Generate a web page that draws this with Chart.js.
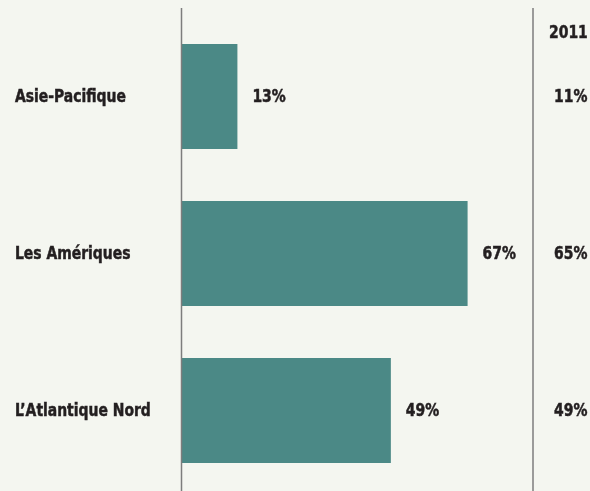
<!DOCTYPE html>
<html>
<head>
<meta charset="utf-8">
<script src="https://cdn.jsdelivr.net/npm/chart.js@4/dist/chart.umd.min.js"></script>
<style>
  html, body { margin: 0; padding: 0; background: #f4f6f0; }
  #wrap { width: 590px; height: 491px; position: relative; }
</style>
</head>
<body>
<div id="wrap"><canvas id="c" width="590" height="491"></canvas></div>
<script>
const categories = ["Asie-Pacifique", "Les Amériques", "L’Atlantique Nord"];
const currentValues = [13, 67, 49];
const comparisonValues = [11, 65, 49];
const comparisonYear = "2011";
const valueTicks = [0, 80];

const FONT = '"DejaVu Sans Condensed", "Liberation Sans Narrow", "Roboto", sans-serif';
const TEXT = '#231f20';
const LINE = '#7d7d7d';
const SQUEEZE = 0.86;

function narrowText(ctx, text, x, y) {
  ctx.save();
  ctx.translate(x, y);
  ctx.scale(SQUEEZE, 1);
  ctx.lineWidth = 0.5;
  ctx.strokeStyle = TEXT;
  ctx.fillText(text, 0, 0);
  ctx.strokeText(text, 0, 0);
  ctx.restore();
}

const overlay = {
  id: 'overlay',
  beforeDraw(chart) {
    const ctx = chart.ctx;
    ctx.save();
    ctx.fillStyle = '#f4f6f0';
    ctx.fillRect(0, 0, chart.width, chart.height);
    ctx.restore();
  },
  afterDatasetsDraw(chart) {
    const ctx = chart.ctx;
    const area = chart.chartArea;
    const yScale = chart.scales.y;
    const meta = chart.getDatasetMeta(0);
    ctx.save();
    ctx.strokeStyle = LINE;
    ctx.lineWidth = 1.5;
    ctx.beginPath();
    ctx.moveTo(area.left - 0.5, 8);
    ctx.lineTo(area.left - 0.5, chart.height);
    ctx.moveTo(533, 8);
    ctx.lineTo(533, chart.height);
    ctx.stroke();

    ctx.fillStyle = TEXT;
    ctx.font = 'bold 18px ' + FONT;
    ctx.textBaseline = 'middle';
    ctx.textAlign = 'left';
    categories.forEach((label, i) => {
      narrowText(ctx, label, 15, yScale.getPixelForValue(i) + 1);
    });
    meta.data.forEach((bar, i) => {
      narrowText(ctx, currentValues[i] + '%', bar.x + 15, bar.y + 1);
      narrowText(ctx, comparisonValues[i] + '%', 554, yScale.getPixelForValue(i) + 1);
    });
    narrowText(ctx, comparisonYear, 549, 33);
    ctx.restore();
  }
};

new Chart(document.getElementById('c'), {
  type: 'bar',
  data: {
    labels: categories,
    datasets: [{
      data: currentValues,
      backgroundColor: '#4b8986',
      borderWidth: 0,
      barPercentage: 0.669,
      categoryPercentage: 1
    }]
  },
  options: {
    indexAxis: 'y',
    responsive: false,
    animation: false,
    devicePixelRatio: 1,
    layout: { padding: { left: 15, top: 18, bottom: 2, right: 67 } },
    plugins: { legend: { display: false }, tooltip: { enabled: false } },
    scales: {
      x: {
        display: false,
        min: valueTicks[0],
        max: valueTicks[1]
      },
      y: {
        grid: { display: false },
        border: { display: false },
        afterFit(scale) { scale.width = 167; },
        ticks: { display: false }
      }
    }
  },
  plugins: [overlay]
});
</script>
</body>
</html>
